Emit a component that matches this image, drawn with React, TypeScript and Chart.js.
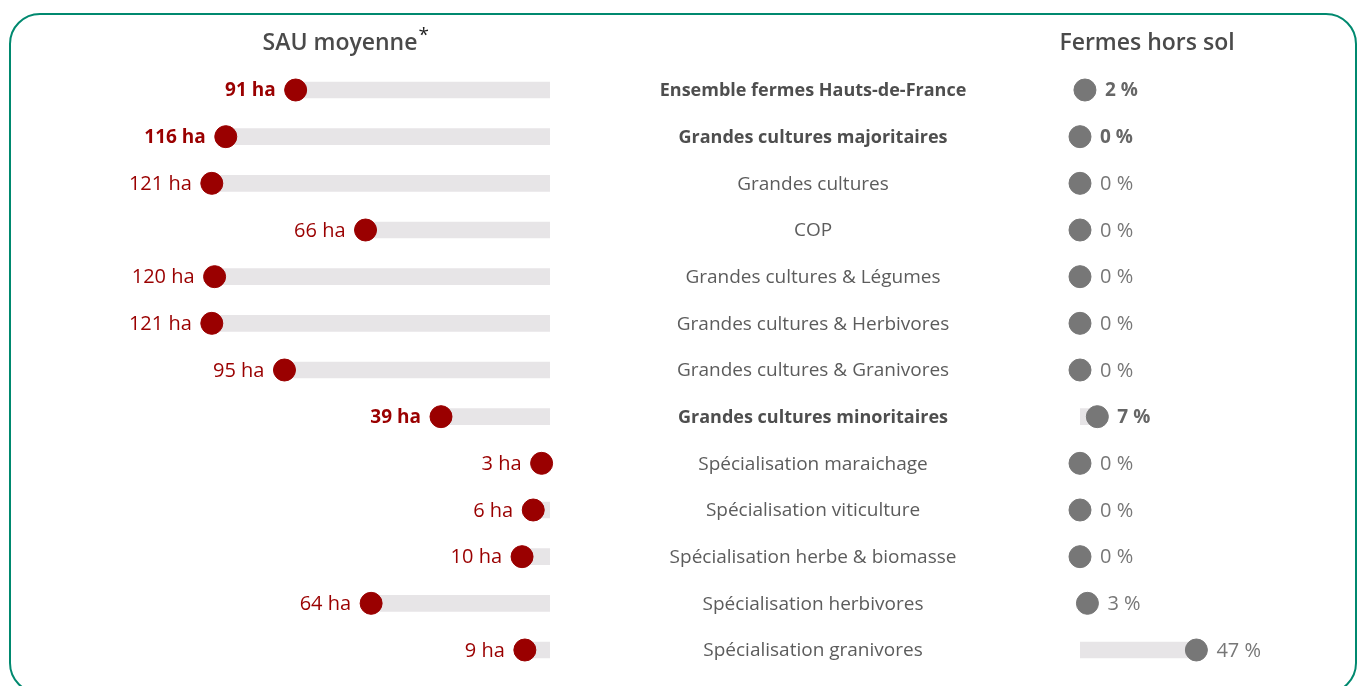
import React, { useEffect, useRef } from "react";
import { Chart, registerables } from "chart.js";

Chart.register(...registerables);

const categories = [
  "Ensemble fermes Hauts-de-France",
  "Grandes cultures majoritaires",
  "Grandes cultures",
  "COP",
  "Grandes cultures & Légumes",
  "Grandes cultures & Herbivores",
  "Grandes cultures & Granivores",
  "Grandes cultures minoritaires",
  "Spécialisation maraichage",
  "Spécialisation viticulture",
  "Spécialisation herbe & biomasse",
  "Spécialisation herbivores",
  "Spécialisation granivores",
];
const sauValues = [91, 116, 121, 66, 120, 121, 95, 39, 3, 6, 10, 64, 9];
const horsSolValues = [2, 0, 0, 0, 0, 0, 0, 7, 0, 0, 0, 3, 47];
const emphasised = [true, true, false, false, false, false, false, true, false, false, false, false, false];
const leftTitle = "SAU moyenne";
const rightTitle = "Fermes hors sol";

const RED = "#9a0000";
const GREY_DOT = "#777777";
const TRACK = "#e7e5e7";
const FONT = "'Open Sans', sans-serif";

export default function App() {
  const ref = useRef<HTMLCanvasElement>(null);

  useEffect(() => {
    if (!ref.current) return;
    const labelPlugin = {
      id: "rowLabels",
      afterDatasetsDraw(chart: any) {
        const { ctx, scales } = chart;
        const y = scales.y;
        const xL = scales.xL;
        const xM = scales.xM;
        const xR = scales.xR;
        ctx.save();
        ctx.textBaseline = "middle";
        categories.forEach((cat, i) => {
          const py = y.getPixelForValue(i);
          const bold = emphasised[i];
          ctx.font = bold ? `700 19px ${FONT}` : `400 20px ${FONT}`;
          ctx.fillStyle = RED;
          ctx.textAlign = "right";
          ctx.fillText(`${sauValues[i]} ha`, xL.getPixelForValue(sauValues[i]) - 20, py + 1);

          ctx.font = bold ? `700 18px ${FONT}` : `400 19px ${FONT}`;
          ctx.fillStyle = bold ? "#4e4e4e" : "#5c5c5c";
          ctx.textAlign = "center";
          ctx.fillText(cat, xM.getPixelForValue(0.5) - 2, py + 1);

          ctx.font = bold ? `700 19px ${FONT}` : `400 20px ${FONT}`;
          ctx.fillStyle = bold ? "#666666" : "#777777";
          ctx.textAlign = "left";
          ctx.fillText(`${horsSolValues[i]} %`, xR.getPixelForValue(horsSolValues[i]) + 20, py + 1);
        });

        ctx.font = `600 23px ${FONT}`;
        ctx.fillStyle = "#4a4a4a";
        ctx.textAlign = "center";
        ctx.fillText(leftTitle, 340, 43);
        const tw = ctx.measureText(leftTitle).width;
        ctx.font = `400 19px ${FONT}`;
        ctx.fillStyle = "#222222";
        ctx.textAlign = "left";
        ctx.fillText("*", 340 + tw / 2 + 1, 36);

        ctx.font = `600 23px ${FONT}`;
        ctx.fillStyle = "#4a4a4a";
        ctx.textAlign = "center";
        ctx.fillText(rightTitle, 1147, 43);
        ctx.restore();
      },
    };

    const chart = new Chart(ref.current, {
      type: "bar",
      data: {
        labels: categories,
        datasets: [
          {
            type: "bar",
            data: sauValues,
            xAxisID: "xL",
            yAxisID: "y",
            backgroundColor: TRACK,
            barThickness: 16,
            grouped: false,
            order: 3,
          },
          {
            type: "bar",
            data: horsSolValues,
            xAxisID: "xR",
            yAxisID: "y",
            backgroundColor: TRACK,
            barThickness: 16,
            grouped: false,
            order: 3,
          },
          {
            type: "line",
            data: sauValues,
            xAxisID: "xL",
            yAxisID: "y",
            showLine: false,
            clip: false,
            pointRadius: 11,
            pointBorderWidth: 1,
            pointBackgroundColor: RED,
            pointBorderColor: RED,
            order: 1,
          },
          {
            type: "line",
            data: horsSolValues,
            xAxisID: "xR",
            yAxisID: "y",
            showLine: false,
            clip: false,
            pointRadius: 11,
            pointBorderWidth: 1,
            pointBackgroundColor: GREY_DOT,
            pointBorderColor: GREY_DOT,
            order: 1,
          },
        ],
      } as any,
      options: {
        indexAxis: "y",
        responsive: false,
        animation: false,
        layout: { padding: { left: 100, right: 19, top: 66.67, bottom: 12.67 } },
        plugins: {
          legend: { display: false },
          tooltip: { enabled: false },
        },
        scales: {
          xL: {
            type: "linear",
            position: "bottom",
            stack: "row",
            stackWeight: 450,
            weight: 0,
            reverse: true,
            min: 0,
            max: 161,
            display: false,
          },
          xM: {
            type: "linear",
            position: "bottom",
            stack: "row",
            stackWeight: 530,
            weight: 1,
            min: 0,
            max: 1,
            display: false,
          },
          xR: {
            type: "linear",
            position: "bottom",
            stack: "row",
            stackWeight: 260,
            weight: 2,
            min: 0,
            max: 105,
            display: false,
          },
          y: { type: "category", display: false, offset: true },
        },
      } as any,
      plugins: [labelPlugin],
    });
    return () => chart.destroy();
  }, []);

  return (
    <>
      <div
        style={{
          position: "fixed",
          left: 9,
          top: 13,
          width: 1348,
          height: 681,
          boxSizing: "border-box",
          border: "2px solid #00896f",
          borderRadius: 31,
        }}
      />
      <canvas
        ref={ref}
        width={1359}
        height={686}
        style={{ position: "fixed", left: 0, top: 0, width: 1359, height: 686 }}
      />
    </>
  );
}
